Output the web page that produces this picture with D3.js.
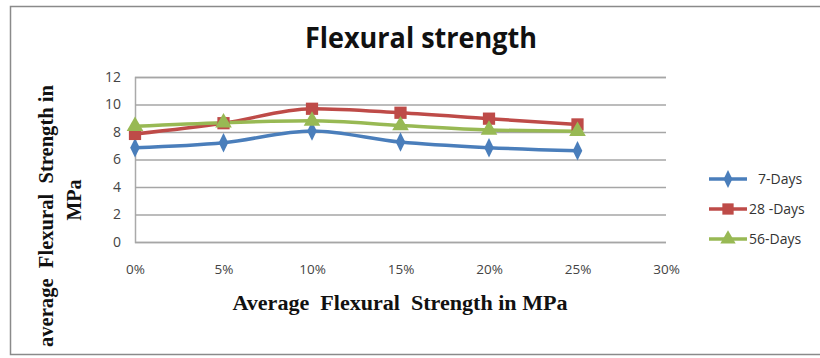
<!DOCTYPE html>
<html><head><meta charset="utf-8">
<script src="https://cdn.jsdelivr.net/npm/d3@7"></script>
<style>body{margin:0;background:#fff;} svg{display:block;} text{white-space:pre;}</style>
</head><body>
<svg id="c" width="820" height="358"></svg>
<script>
const xValues = [0, 5, 10, 15, 20, 25];
const xTicks = [0, 5, 10, 15, 20, 25, 30];
const yTicks = [0, 2, 4, 6, 8, 10, 12];
const seriesNames = ["7-Days", "28 -Days", "56-Days"];
const days7 = [6.86, 7.22, 8.08, 7.27, 6.86, 6.63];
const days28 = [7.86, 8.64, 9.69, 9.40, 8.97, 8.55];
const days56 = [8.42, 8.68, 8.81, 8.47, 8.15, 8.06];
const colors = ["#4a7ebb", "#be4b48", "#98b954"];

const svg = d3.select("#c");
const m = {l:135, r:666, t:77, b:242};
const x = d3.scaleLinear().domain([0,30]).range([m.l, m.r]);
const y = d3.scaleLinear().domain([0,12]).range([m.b, m.t]);

// outer border
svg.append("rect").attr("x",10.5).attr("y",6.5).attr("width",830).attr("height",348)
  .attr("fill","none").attr("stroke","#8a8a8a").attr("stroke-width",1.5);

// title
svg.append("text").attr("x",421).attr("y",48).attr("text-anchor","middle")
  .attr("font-family","'Liberation Sans Narrow','Open Sans',sans-serif").attr("font-size",29)
  .attr("font-weight","bold").attr("textLength",232).attr("lengthAdjust","spacingAndGlyphs")
  .attr("fill","#111").text("Flexural strength");

// gridlines
const yAxis = d3.axisLeft(y).tickValues(yTicks).tickSize(-(m.r-m.l)).tickPadding(14);
const gy = svg.append("g").attr("transform",`translate(${m.l},0)`).call(yAxis);
gy.select(".domain").attr("stroke","#aaa").attr("stroke-width",1.5);
gy.selectAll(".tick line").attr("stroke","#a6a6a6").attr("stroke-width",1.5);
gy.selectAll(".tick text").attr("font-family","'Open Sans',sans-serif").attr("font-size",14)
  .attr("fill","#444");

const xAxis = d3.axisBottom(x).tickValues(xTicks).tickSize(0).tickPadding(22).tickFormat(d => d + "%");
const gx = svg.append("g").attr("transform",`translate(0,${m.b})`).call(xAxis);
gx.select(".domain").remove();
gx.selectAll(".tick text").attr("font-family","'Open Sans',sans-serif").attr("font-size",13.5)
  .attr("fill","#444");

// axis titles
svg.append("text").attr("x",400).attr("y",310).attr("text-anchor","middle")
  .attr("font-family","'Liberation Serif',serif").attr("font-weight","bold").attr("font-size",20)
  .attr("textLength",335).attr("lengthAdjust","spacingAndGlyphs")
  .attr("fill","#111").text("Average  Flexural  Strength in MPa");
const yt = svg.append("text").attr("transform","rotate(-90)")
  .attr("font-family","'Liberation Serif',serif").attr("font-weight","bold").attr("font-size",20)
  .attr("fill","#111").attr("text-anchor","middle");
yt.append("tspan").attr("x",-216).attr("y",53).attr("textLength",262).attr("lengthAdjust","spacingAndGlyphs")
  .text("average  Flexural  Strength in");
yt.append("tspan").attr("x",-200).attr("y",81).text("MPa");

// series
const allSeries = [days7, days28, days56];
const line = d3.line().x((d,i) => x(xValues[i])).y(d => y(d)).curve(d3.curveMonotoneX);
const symbols = [d3.symbolDiamond, d3.symbolSquare, d3.symbolTriangle];
const symSizes = [110, 150, 120];
allSeries.forEach((s, k) => {
  svg.append("path").datum(s).attr("d", line).attr("fill","none")
    .attr("stroke", colors[k]).attr("stroke-width",3.5).attr("stroke-linejoin","round");
});
allSeries.forEach((s, k) => {
  svg.append("g").selectAll("path").data(s).join("path")
    .attr("transform",(d,i) => `translate(${x(xValues[i])},${y(d)})` + (k===0 ? " scale(0.85,1)" : ""))
    .attr("d", d3.symbol().type(symbols[k]).size(symSizes[k]))
    .attr("fill", colors[k]);
});

// legend
const legY = [179, 209, 239];
const textX = [758, 749, 749];
seriesNames.forEach((n, k) => {
  svg.append("line").attr("x1",709).attr("x2",747).attr("y1",legY[k]).attr("y2",legY[k])
    .attr("stroke",colors[k]).attr("stroke-width",3.5);
  svg.append("path").attr("transform",`translate(728,${legY[k]})` + (k===0 ? " scale(0.85,1)" : ""))
    .attr("d", d3.symbol().type(symbols[k]).size(symSizes[k]*0.85)).attr("fill",colors[k]);
  svg.append("text").attr("x",textX[k]).attr("y",legY[k]+5)
    .attr("font-family","'Open Sans',sans-serif").attr("font-size",14).attr("fill","#333").text(n);
});
</script>
</body></html>
